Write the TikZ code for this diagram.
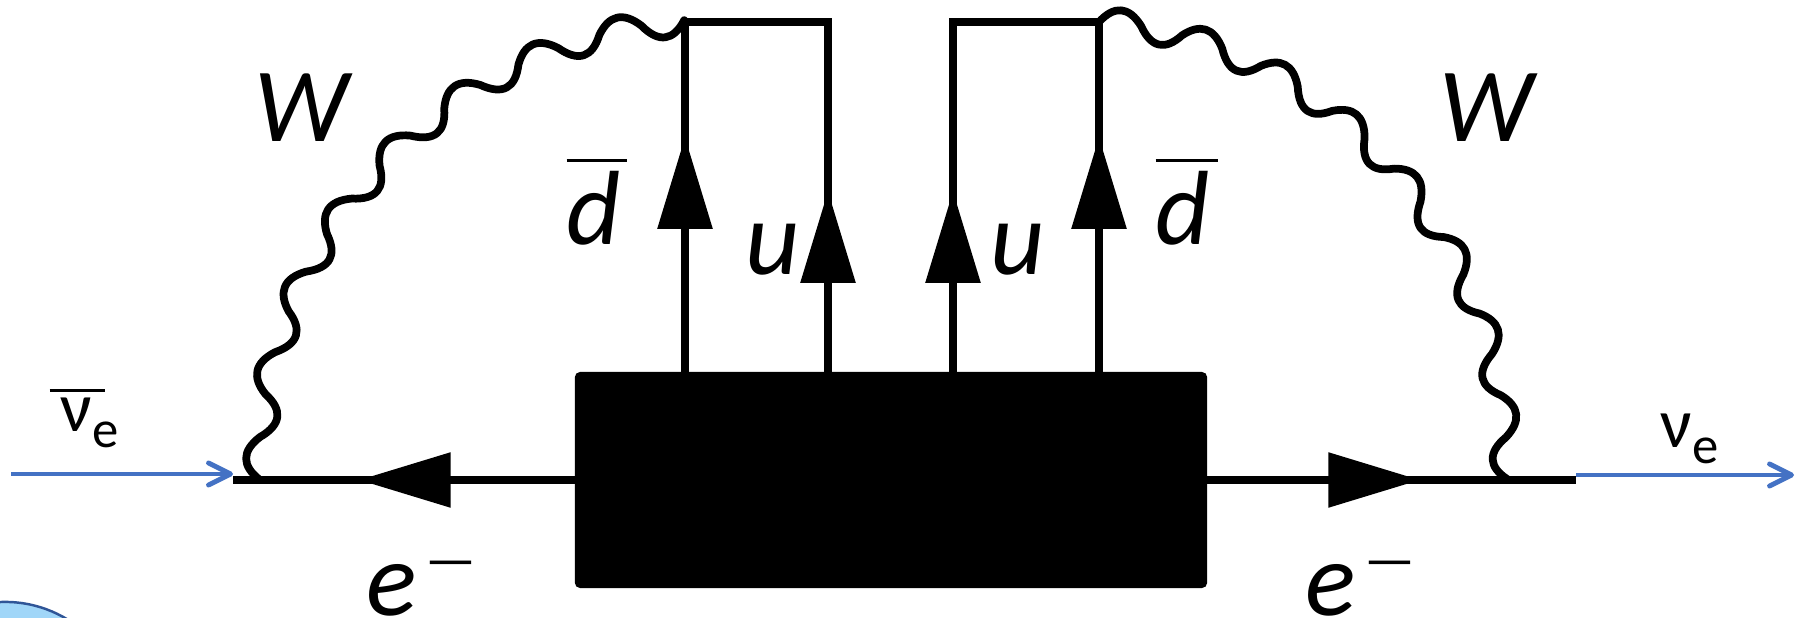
\documentclass[tikz,border=0pt]{standalone}
\usepackage{fontspec}
\setmainfont{Carlito}
\usetikzlibrary{arrows.meta,decorations,decorations.markings}
\definecolor{nublue}{RGB}{68,114,196}
\definecolor{bubfill}{RGB}{160,214,248}
\definecolor{bubedge}{RGB}{47,85,151}

% boson wave: a whole number of rounded half waves along the path
\def\wN{16}
\pgfdeclaredecoration{wwave}{up}{
  \state{up}[width=\pgfdecoratedpathlength/\wN-0.01pt, next state=down]{
    \pgfmathsetlengthmacro\wh{\pgfdecoratedpathlength/\wN-0.01pt}
    \pgfpathcurveto{\pgfpoint{0.33*\wh}{0.43*\wh}}{\pgfpoint{0.67*\wh}{0.43*\wh}}{\pgfpoint{\wh}{0pt}}
  }
  \state{down}[width=\pgfdecoratedpathlength/\wN-0.01pt, next state=up]{
    \pgfmathsetlengthmacro\wh{\pgfdecoratedpathlength/\wN-0.01pt}
    \pgfpathcurveto{\pgfpoint{0.33*\wh}{-0.43*\wh}}{\pgfpoint{0.67*\wh}{-0.43*\wh}}{\pgfpoint{\wh}{0pt}}
  }
  \state{final}{\pgfpathlineto{\pgfpointdecoratedpathlast}}
}

\tikzset{
  fermion/.style={line width=2.55pt},
  boson/.style={line width=2.2pt, line join=round, decorate, decoration={wwave}},
  flowarrow/.style={postaction={decorate}, decoration={markings,
    mark=at position #1 with {\arrow{Triangle[length=0.92cm,width=0.53cm]}}}},
  nuline/.style={nublue, line width=1.4pt,
    -{Straight Barb[length=0.22cm,width=0.22cm,round]}},
  blob/.style={fill=black, rounded corners=1.5pt, inner sep=0pt, outer sep=0pt,
    minimum width=6.32cm, minimum height=2.16cm},
  qlabel/.style={font=\fontsize{30}{30}\selectfont\itshape, inner sep=0pt, anchor=base west},
  nulabel/.style={font=\fontsize{20}{20}\selectfont, inner sep=0pt, anchor=base west},
}
\newcommand\subE{\raisebox{-0.15cm}{\fontsize{15}{15}\selectfont e}}
\newcommand\supMinus{\kern0.08cm\raisebox{0.37cm}{\fontsize{16}{16}\selectfont\upshape —}}
\begin{document}
\begin{tikzpicture}[x=0.01cm, y=0.01cm]
\useasboundingbox (0,0) rectangle (1796,618);

% corner bubble
\begin{scope}
  \clip (0,0) rectangle (1796,618);
  \node[circle, draw=bubedge, fill=bubfill, line width=0.7pt, minimum size=2.4cm,
        inner sep=0pt] (bubble) at (5,-104) {};
\end{scope}

% vertices and blob
\node[blob] (box) at (891,138) {};
\coordinate (eL) at (233,138);
\coordinate (wL) at (260,138);
\coordinate (wR) at (1506,138);
\coordinate (eR) at (1576,138);
\coordinate (tA) at (685,596);
\coordinate (tB) at (828,596);
\coordinate (tC) at (953,596);
\coordinate (tD) at (1099,596);
\coordinate (nuInStart) at (11,144);
\coordinate (nuInEnd) at (233,144);
\coordinate (nuOutStart) at (1576,143);
\coordinate (nuOutEnd) at (1794,143);

% electron lines
\draw[fermion, flowarrow=2.16cm] (box.west) -- (eL);
\draw[fermion, flowarrow=2.13cm] (box.east) -- (eR);

% quark loops
\draw[fermion, line cap=rect] (tA) -- (tB);
\draw[fermion, line cap=rect] (tC) -- (tD);
\draw[fermion, line cap=rect, flowarrow=2.35cm] (tA |- box.north) -- (tA);
\draw[fermion, line cap=rect, flowarrow=1.81cm] (tB |- box.north) -- (tB);
\draw[fermion, line cap=rect, flowarrow=1.81cm] (tC |- box.north) -- (tC);
\draw[fermion, line cap=rect, flowarrow=2.35cm] (tD |- box.north) -- (tD);

% W bosons
\draw[boson] (wL) .. controls +(0,253) and +(-235,-20) .. (tA);
\draw[boson] (tD) .. controls +(225,-20) and +(0,253) .. (wR);

% neutrinos
\draw[nuline] (nuInStart) -- (nuInEnd);
\draw[nuline] (nuOutStart) -- (nuOutEnd);

% labels
\node[qlabel] (Wl) at (254,476) {W};
\node[qlabel] (Wr) at (1439,476) {W};
\node[qlabel] (dl) at (566,373) {\makebox[0pt][l]{\rule[0.825cm]{0.6cm}{0.85pt}}d};
\node[qlabel] (dr) at (1155,373) {\makebox[0pt][l]{\rule[0.825cm]{0.62cm}{0.85pt}}d};
\node[qlabel] (ul) at (745,343) {u};
\node[qlabel] (ur) at (990,343) {u};
\node[qlabel] (eml) at (366,2) {e\supMinus};
\node[qlabel] (emr) at (1305,2) {e\supMinus};
\node[nulabel] (nul) at (60,186) {\makebox[0pt][l]{\hspace{-0.11cm}\rule[0.395cm]{0.55cm}{0.85pt}}ν\subE};
\node[nulabel] (nur) at (1660,170) {ν\subE};
\end{tikzpicture}
\end{document}
